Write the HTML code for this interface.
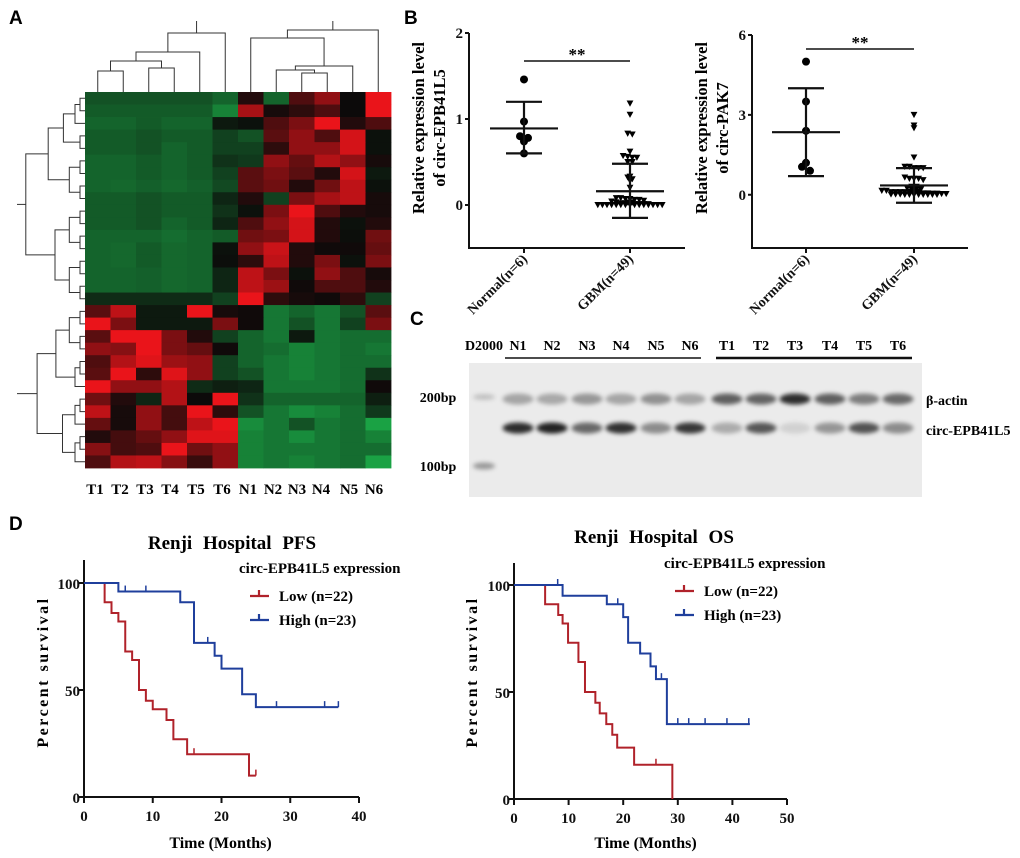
<!DOCTYPE html>
<html><head><meta charset="utf-8"><style>
html,body{margin:0;padding:0;background:#fff;}
svg{display:block;font-family:"Liberation Serif",serif;font-weight:bold;}
.sans{font-family:"Liberation Sans",sans-serif;}
</style></head><body>
<svg id="fig" width="1020" height="858" viewBox="0 0 1020 858" xmlns="http://www.w3.org/2000/svg">
<defs><filter id="blur" x="-30%" y="-100%" width="160%" height="300%"><feGaussianBlur stdDeviation="2.2"/></filter></defs>
<text x="9" y="24" class="sans" font-size="19">A</text>
<text x="404" y="24" class="sans" font-size="19">B</text>
<text x="410" y="325" class="sans" font-size="19">C</text>
<text x="9" y="530" class="sans" font-size="19">D</text>
<g id="heat"></g>
<g id="dendro" stroke="#333" stroke-width="1" fill="none"></g>
<g id="scatter"></g>
<g id="gel"></g>
<g id="km"></g>
</svg>
<script>
// ---------- Heatmap data ----------
const heatCols = ["T1","T2","T3","T4","T5","T6","N1","N2","N3","N4","N5","N6"];
const heatTop = [
[-0.6,-0.6,-0.6,-0.6,-0.6,-0.7,0.1,-0.7,0.3,0.6,0,1],
[-0.65,-0.65,-0.65,-0.65,-0.65,-0.85,0.7,0.05,0.15,0.3,0,1],
[-0.7,-0.7,-0.65,-0.7,-0.7,-0.2,-0.1,0.3,0.5,1,0.1,0.3],
[-0.65,-0.65,-0.6,-0.65,-0.65,-0.5,-0.6,0.35,0.6,0.3,0.9,-0.1],
[-0.65,-0.65,-0.6,-0.7,-0.65,-0.5,-0.5,0.15,0.6,0.6,0.9,-0.1],
[-0.7,-0.7,-0.65,-0.7,-0.65,-0.4,-0.45,0.6,0.4,0.75,0.6,0.05],
[-0.7,-0.7,-0.65,-0.7,-0.65,-0.5,0.35,0.5,0.35,0.1,0.9,-0.2],
[-0.7,-0.72,-0.68,-0.72,-0.68,-0.55,0.35,0.45,0.1,0.45,0.8,-0.1],
[-0.65,-0.65,-0.6,-0.65,-0.65,-0.3,0.1,-0.5,0.5,0.7,0.8,0.05],
[-0.65,-0.65,-0.6,-0.65,-0.65,-0.4,-0.1,0.5,1,0.3,0.1,0.05],
[-0.65,-0.65,-0.6,-0.7,-0.65,-0.3,0.3,0.6,0.9,0.1,-0.1,0.1],
[-0.7,-0.7,-0.7,-0.75,-0.7,-0.65,0.45,0.5,0.9,0.1,-0.05,0.45],
[-0.7,-0.72,-0.65,-0.72,-0.7,-0.1,0.6,0.85,0.1,0.02,0.02,0.4],
[-0.7,-0.72,-0.65,-0.72,-0.7,-0.05,0.15,0.8,0.1,0.5,-0.1,0.5],
[-0.7,-0.7,-0.68,-0.72,-0.7,-0.3,0.8,0.5,-0.1,0.6,0.3,0.05],
[-0.7,-0.7,-0.68,-0.72,-0.7,-0.3,0.8,0.65,0.02,0.3,0.3,0.1],
[-0.35,-0.35,-0.35,-0.35,-0.35,-0.5,1,0.15,0.05,0.02,0.15,-0.5]];
const heatBottom = [
[0.35,0.8,-0.2,-0.2,1,0.05,0.02,-0.8,-0.7,-0.8,-0.6,0.35],
[1,0.5,-0.2,-0.2,-0.2,0.5,0.02,-0.8,-0.6,-0.8,-0.5,0.5],
[0.35,1,1,0.5,0.1,-0.5,-0.7,-0.8,-0.2,-0.8,-0.75,-0.75],
[0.6,0.55,1,0.5,0.4,0.02,-0.7,-0.75,-0.85,-0.8,-0.75,-0.8],
[0.3,0.75,0.95,0.65,0.6,-0.5,-0.7,-0.8,-0.85,-0.8,-0.75,-0.75],
[0.35,1,0.15,0.95,0.6,-0.5,-0.6,-0.8,-0.85,-0.8,-0.75,-0.4],
[1,0.6,0.6,0.75,-0.35,-0.25,-0.3,-0.8,-0.8,-0.8,-0.75,0.02],
[0.45,0.1,-0.3,0.75,0,1,-0.4,-0.7,-0.7,-0.7,-0.7,-0.25],
[0.8,0.05,0.6,0.25,1,0.15,-0.6,-0.8,-0.9,-0.85,-0.75,-0.45],
[0.4,0.05,0.6,0.25,0.8,1,-0.9,-0.8,-0.6,-0.8,-0.75,-1],
[0.1,0.25,0.4,0.6,0.95,0.95,-0.85,-0.8,-0.9,-0.8,-0.75,-0.85],
[0.55,0.25,0.3,1,0.45,0.6,-0.85,-0.8,-0.8,-0.8,-0.75,-0.75],
[0.3,0.75,0.8,0.55,0.2,0.6,-0.85,-0.8,-0.85,-0.8,-0.75,-1]];

// ---------- Scatter data ----------
const epbNormal = [1.46,0.97,0.8,0.78,0.74,0.6];
const epbGBM = [1.18,1.05,0.83,0.82,0.62,0.57,0.56,0.55,0.55,0.5,0.5,0.33,0.32,0.3,0.28,0.2,0.08,0.08,0.07,0.07,0.06,0.06,0.05,0.04,0.03,0.02,0.02,0.02,0.01,0.01,0.01,0.01,0,0,0,0,0,0,0,0,0,0,0,0,0,0,0,0,0];
const epbStats = {normal:[0.89,0.6,1.2], gbm:[0.16,-0.15,0.48]};
const epbTicks = [0,1,2];
const pakNormal = [5.0,3.5,2.4,1.2,1.05,0.9];
const pakGBM = [3.0,2.6,2.5,1.4,1.05,1.05,1.0,1.0,1.0,0.65,0.6,0.6,0.6,0.55,0.3,0.3,0.25,0.2,0.2,0.2,0.15,0.15,0.1,0.1,0.1,0.1,0.08,0.07,0.06,0.05,0.05,0.04,0.04,0.03,0.03,0.02,0.02,0.02,0.01,0.01,0.01,0,0,0,0,0,0,0,0];
const pakStats = {normal:[2.35,0.7,4.0], gbm:[0.35,-0.3,1.0]};
const pakTicks = [0,3,6];
const scatterCats = ["Normal(n=6)","GBM(n=49)"];

// ---------- Gel data ----------
const gelLanes = ["N1","N2","N3","N4","N5","N6","T1","T2","T3","T4","T5","T6"];
const actinBand = [0.35,0.33,0.42,0.35,0.45,0.35,0.7,0.68,0.95,0.7,0.55,0.65];
const circBand = [0.9,0.95,0.62,0.88,0.45,0.85,0.3,0.7,0.12,0.4,0.72,0.45];

// ---------- Survival data ----------
const pfsLowT = [0,3,4,5,6,7,8,9,10,12,13,15,24,25];
const pfsLowS = [100,91,86,82,68,64,50,45,41,36,27,20,10,10];
const pfsLowCens = [[16,20],[25,10]];
const pfsHighT = [0,5,14,16,19,20,23,25,37];
const pfsHighS = [100,96,91,72,66,60,48,42,42];
const pfsHighCens = [[6,96],[9,96],[18,72],[28,42],[35,42],[37,42]];
const osLowT = [0,5.7,8.1,8.9,9.9,11.8,13,14.9,15.7,16.9,18,18.9,22,29,29];
const osLowS = [100,91,86,82,73,64,50,45,40,35,30,24,16,0,0];
const osLowCens = [[26,16]];
const osHighT = [0,8.9,17,20,20.9,23.1,25,26,28,43.2];
const osHighS = [100,95,91,85,73,68,62,56,35,35];
const osHighCens = [[8,100],[19,91],[27,56],[30,35],[32,35],[35,35],[39,35],[43,35]];
const pfsXTicks = [0,10,20,30,40];
const osXTicks = [0,10,20,30,40,50];
const survYTicks = [0,50,100];

const NS="http://www.w3.org/2000/svg";
function mk(tag, attrs, parent){const e=document.createElementNS(NS,tag);for(const k in attrs)e.setAttribute(k,attrs[k]);parent.appendChild(e);return e;}

// ===== Heatmap =====
(function(){
  const g=document.getElementById('heat');
  const x0=85,y0=92,cw=25.5,rows=heatTop.concat(heatBottom),rh=376/rows.length;
  function col(v){
    if(v>=0){return `rgb(${Math.round(12+222*v)},${Math.round(10+10*v)},${Math.round(10+16*v)})`;}
    const a=Math.pow(-v,1.5);return `rgb(${Math.round(12+14*a)},${Math.round(12+150*a)},${Math.round(10+58*a)})`;
  }
  rows.forEach((row,r)=>row.forEach((v,c)=>{
    const e=mk('rect',{x:x0+c*cw,y:y0+r*rh,width:cw+0.4,height:rh+0.4,fill:col(v)},g);
    
    
  }));
  const lx=[95,120,145,170,196,222,248,273,297,321,349,374];
  heatCols.forEach((n,i)=>{
    const t=mk('text',{x:lx[i],y:494,'text-anchor':'middle','font-size':'15'},g);t.textContent=n;
    
    
  });
})();

// ===== Dendrograms =====
(function(){
  const g=document.getElementById('dendro');
  const cx=i=>97.75+25.5*i;
  function line(d){mk('path',{d},g);}
  function join(xa,ya,xb,yb,yt){line(`M${xa},${ya}V${yt}H${xb}V${yb}`);return [(xa+xb)/2,yt];}
  const B=92;
  let a=join(cx(0),B,cx(1),B,71), b=join(cx(2),B,cx(3),B,68);
  let c=join(a[0],a[1],b[0],b[1],61); let d=join(c[0],c[1],cx(4),B,52);
  let e=join(d[0],d[1],cx(5),B,33); line(`M${e[0]},33V21`);
  let f=join(cx(8),B,cx(9),B,73); let h=join(cx(7),B,f[0],f[1],70);
  let k=join(h[0],h[1],cx(10),B,66); let m=join(cx(6),B,k[0],k[1],38);
  let n=join(m[0],m[1],cx(11),B,30); line(`M${n[0]},30V21`);
  const rows=heatTop.length+heatBottom.length, rh=376/rows;
  const ry=i=>92+rh*(i+0.5);
  function tree(a,b,depth){
    if(a===b) return [85,ry(a)];
    const mid=Math.floor((a+b)/2);
    const L=tree(a,mid,depth+1),R=tree(mid+1,b,depth+1);
    const x=Math.min(L[0],R[0])-(b-a<3?5:8+ (b-a)*0.9);
    line(`M${L[0]},${L[1]}H${x}V${R[1]}H${R[0]}`);
    return [x,(L[1]+R[1])/2];
  }
  const t1=tree(0,heatTop.length-1,0); line(`M${t1[0]},${t1[1]}H17`);
  const t2=tree(heatTop.length,rows-1,0); line(`M${t2[0]},${t2[1]}H17`);
})();

// ===== Scatter plots =====
(function(){
  const g=document.getElementById('scatter');
  function plot(o){
    const ys=v=>o.y0+(v-o.ymin)*(o.y1-o.y0)/(o.ymax-o.ymin);
    const ax=mk('g',{stroke:'#111','stroke-width':'2',fill:'none'},g);
    
    
    mk('path',{d:`M${o.ax},${ys(o.ticks[o.ticks.length-1])}V${o.y0}H${o.axEnd}`},ax);
    o.ticks.forEach(t=>{
      mk('path',{d:`M${o.ax-4},${ys(t)}H${o.ax}`},ax);
      const tx=mk('text',{x:o.ax-6,y:ys(t)+5,'text-anchor':'end','font-size':'15',fill:'#111',stroke:'none'},g);tx.textContent=t;
      
      
    });
    o.cx.forEach((x,i)=>{
      mk('path',{d:`M${x},${o.y0}V${o.y0+5}`},ax);
      const tx=mk('text',{x:x+4,y:o.y0+12,'text-anchor':'end','font-size':'14',transform:`rotate(-45 ${x+4} ${o.y0+12})`,fill:'#111',stroke:'none'},g);
      tx.textContent=scatterCats[i];
      
      
    });
    const yt=mk('text',{x:0,y:0,'font-size':'16.5','text-anchor':'middle',transform:`translate(${o.titleX},${o.titleY}) rotate(-90)`},g);
    
    
    const s1=mk('tspan',{x:0,dy:0},yt);s1.textContent='Relative expression level';
    const s2=mk('tspan',{x:0,dy:21},yt);s2.textContent=o.title;
    [o.normal,o.gbm].forEach((vals,gi)=>{
      const bins={};
      vals.forEach(v=>{const k=Math.round(ys(v)/(gi?3.5:6));(bins[k]=bins[k]||[]).push(v);});
      Object.keys(bins).forEach(k=>{
        const arr=bins[k],sp=gi?4.6:8,per=gi?15:6;
        arr.forEach((v,j)=>{
          const rowI=Math.floor(j/per),inRow=j%per,n=Math.min(per,arr.length-rowI*per);
          const x=o.cx[gi]+(inRow-(n-1)/2)*sp,y=ys(v)-rowI*2.5;
          let p;
          if(gi===0) p=mk('circle',{cx:x,cy:y,r:4,fill:'#000'},g);
          else p=mk('path',{d:`M${x-3.4},${y-3}L${x+3.4},${y-3}L${x},${y+3.2}Z`,fill:'#000'},g);
          
          
        });
      });
    });
    [o.sN,o.sG].forEach((s,i)=>{
      const x=o.cx[i];
      const e=mk('path',{d:`M${x-34},${ys(s[0])}H${x+34}M${x-18},${ys(s[1])}H${x+18}M${x-18},${ys(s[2])}H${x+18}M${x},${ys(s[1])}V${ys(s[2])}`,stroke:'#111','stroke-width':'2.2',fill:'none'},g);
      
      
    });
    const sl=mk('path',{d:`M${o.cx[0]},${o.sigY}H${o.cx[1]}`,stroke:'#111','stroke-width':'1.5'},g);
    
    
    const st=mk('text',{x:(o.cx[0]+o.cx[1])/2,y:o.sigY-1,'text-anchor':'middle','font-size':'17'},g);st.textContent='**';
    
    
  }
  plot({name:'epb41l5',ax:469,axEnd:685,y0:248,y1:33,ymin:-0.5,ymax:2,ticks:epbTicks,cx:[524,630],normal:epbNormal,gbm:epbGBM,sN:epbStats.normal,sG:epbStats.gbm,sigY:61,title:'of circ-EPB41L5',titleX:424,titleY:128});
  plot({name:'pak7',ax:752,axEnd:968,y0:248,y1:35,ymin:-2,ymax:6,ticks:pakTicks,cx:[806,914],normal:pakNormal,gbm:pakGBM,sN:pakStats.normal,sG:pakStats.gbm,sigY:49,title:'of circ-PAK7',titleX:707,titleY:128});
})();

// ===== Gel =====
(function(){
  const g=document.getElementById('gel');
  const bg=mk('rect',{x:469,y:363,width:453,height:134,fill:'#ebebeb'},g);
  
  
  const lx=[518,552,587,621,656,690,727,761,795,830,864,898];
  mk('ellipse',{cx:484,cy:397,rx:11,ry:3,fill:'#000','fill-opacity':0.18,filter:'url(#blur)'},g);
  mk('ellipse',{cx:484,cy:466,rx:11,ry:3.5,fill:'#000','fill-opacity':0.35,filter:'url(#blur)'},g);
  gelLanes.forEach((n,i)=>{
    const a=mk('ellipse',{cx:lx[i],cy:399,rx:15.5,ry:5.5,fill:'#000','fill-opacity':actinBand[i]*0.85,filter:'url(#blur)'},g);
    
    
    const c=mk('ellipse',{cx:lx[i],cy:428,rx:15.5,ry:5.5,fill:'#000','fill-opacity':circBand[i]*0.9,filter:'url(#blur)'},g);
    
    
    const t=mk('text',{x:lx[i],y:350,'text-anchor':'middle','font-size':'14'},g);t.textContent=n;
    
    
  });
  const labs=[['D2000',484,350,'middle'],['200bp',438,402,'middle'],['100bp',438,471,'middle'],['β-actin',926,405,'start'],['circ-EPB41L5',926,435,'start']];
  labs.forEach(l=>{const t=mk('text',{x:l[1],y:l[2],'text-anchor':l[3],'font-size':'14'},g);t.textContent=l[0];
    
    });
  mk('path',{d:'M505,358H701',stroke:'#111','stroke-width':'1.5'},g);
  mk('path',{d:'M716,358H912',stroke:'#111','stroke-width':'2.5'},g);
})();

// ===== Kaplan-Meier =====
(function(){
  const g=document.getElementById('km');
  function panel(o){
    const xs=v=>o.x0+v*(o.x1-o.x0)/o.xmax, ys=v=>o.y0-v*(o.y0-o.y100)/100;
    const ax=mk('g',{stroke:'#111','stroke-width':'2',fill:'none'},g);
    
    
    mk('path',{d:`M${o.x0},${o.yTop}V${o.y0}H${o.x1}`},ax);
    survYTicks.forEach(t=>{mk('path',{d:`M${o.x0-5},${ys(t)}H${o.x0}`},ax);
      const tx=mk('text',{x:o.x0-4,y:ys(t)+6,'text-anchor':'end','font-size':'15',fill:'#111',stroke:'none'},g);tx.textContent=t;
      
      });
    o.xticks.forEach(t=>{mk('path',{d:`M${xs(t)},${o.y0}V${o.y0+6}`},ax);
      const tx=mk('text',{x:xs(t),y:o.y0+24,'text-anchor':'middle','font-size':'15',fill:'#111',stroke:'none'},g);tx.textContent=t;
      
      });
    const xt=mk('text',{x:(o.x0+o.x1)/2-(o.name==='pfs'?1:5),y:848,'text-anchor':'middle','font-size':'16'},g);xt.textContent='Time (Months)';
    
    
    const yt=mk('text',{x:0,y:0,'text-anchor':'middle','font-size':'16','letter-spacing':'2.5',transform:`translate(${o.ytx},672) rotate(-90)`},g);yt.textContent='Percent  survival';
    
    
    const tt=mk('text',{x:o.titleX,y:o.titleY,'text-anchor':'middle','font-size':'19','word-spacing':'6'},g);tt.textContent=o.title;
    
    
    o.series.forEach(s=>{
      let d=`M${xs(s.t[0])},${ys(s.s[0])}`;
      for(let i=1;i<s.t.length;i++){d+=`H${xs(s.t[i])}V${ys(s.s[i])}`;}
      const p=mk('path',{d,stroke:s.c,'stroke-width':'2',fill:'none'},g);
      
      
      s.cens.forEach(c=>{const m=mk('path',{d:`M${xs(c[0])},${ys(c[1])}V${ys(c[1])-6}`,stroke:s.c,'stroke-width':'1.5'},g);
        
        });
    });
    const lt=mk('text',{x:o.legX,y:o.legY,'font-size':'15'},g);lt.textContent='circ-EPB41L5 expression';
    
    
    o.series.forEach((s,i)=>{
      const y=o.legY+23+i*24;
      const l=mk('path',{d:`M${o.legX+11},${y}H${o.legX+30}M${o.legX+20},${y}V${y-6}`,stroke:s.c,'stroke-width':'2.2',fill:'none'},g);
      
      
      const t=mk('text',{x:o.legX+40,y:y+5,'font-size':'15'},g);t.textContent=s.label;
      
      
    });
  }
  panel({name:'pfs',x0:84,x1:359,xmax:40,y0:797,y100:583,yTop:560,xticks:pfsXTicks,ytx:48,title:'Renji Hospital PFS',titleX:232,titleY:549,legX:239,legY:573,
    series:[{n:'pfs-low',c:'#b0222a',t:pfsLowT,s:pfsLowS,cens:pfsLowCens,label:'Low (n=22)'},{n:'pfs-high',c:'#1f3f9c',t:pfsHighT,s:pfsHighS,cens:pfsHighCens,label:'High (n=23)'}]});
  panel({name:'os',x0:514,x1:787,xmax:50,y0:799,y100:585,yTop:563,xticks:osXTicks,ytx:477,title:'Renji Hospital OS',titleX:654,titleY:543,legX:664,legY:568,
    series:[{n:'os-low',c:'#b0222a',t:osLowT,s:osLowS,cens:osLowCens,label:'Low (n=22)'},{n:'os-high',c:'#1f3f9c',t:osHighT,s:osHighS,cens:osHighCens,label:'High (n=23)'}]});
})();
</script>
</body></html>
